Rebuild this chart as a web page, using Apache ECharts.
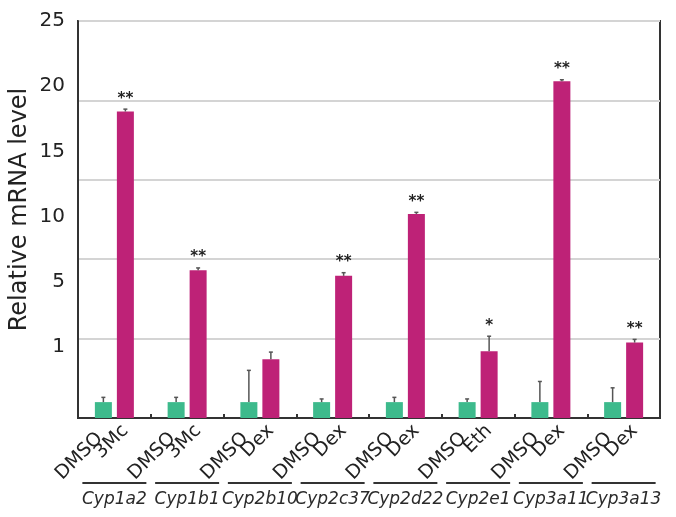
<!DOCTYPE html>
<html><head><meta charset="utf-8">
<script src="https://cdn.jsdelivr.net/npm/echarts@6/dist/echarts.min.js"></script>
<style>html,body{margin:0;padding:0;background:#fff}#c{width:676px;height:517px}</style>
</head><body><div id="c"></div>
<script>
const genes = ['Cyp1a2','Cyp1b1','Cyp2b10','Cyp2c37','Cyp2d22','Cyp2e1','Cyp3a11','Cyp3a13'];
const controlName = 'DMSO';
const treatments = ['3Mc','3Mc','Dex','Dex','Dex','Eth','Dex','Dex'];
const dmsoValues = [1,1,1,1,1,1,1,1];
const dmsoErrors = [0.3,0.3,2.0,0.2,0.3,0.2,1.3,0.9];
const treatedValues = [19.3,9.3,3.7,8.95,12.85,4.2,21.2,4.75];
const treatedErrors = [0.15,0.15,0.45,0.2,0.1,0.95,0.1,0.2];
const significance = ['**','**','','**','**','*','**','**'];
const yTickLabels = ['1','5','10','15','20','25'];

const FONT = 'DejaVu Sans';
const BAR_W = 17, BAR_GAP = 5;
const BAR_OFF = (BAR_W + BAR_GAP) / 2;

const errData = [];
dmsoValues.forEach((v, i) => errData.push([i, v, dmsoErrors[i], 0]));
treatedValues.forEach((v, i) => errData.push([i, v, treatedErrors[i], 1]));

function renderErr(params, api) {
  const i = api.value(0), v = api.value(1), e = api.value(2), side = api.value(3);
  const base = api.coord([i, v]);
  const top = api.coord([i, v + e]);
  const x = base[0] + (side === 0 ? -BAR_OFF : BAR_OFF);
  const children = [
    {type: 'line', shape: {x1: x, y1: base[1], x2: x, y2: top[1]}, style: {stroke: '#555', lineWidth: 1.5}},
    {type: 'line', shape: {x1: x - 2, y1: top[1], x2: x + 2, y2: top[1]}, style: {stroke: '#555', lineWidth: 1.5}}
  ];
  const star = side === 1 ? significance[i] : '';
  if (star) {
    children.push({type: 'text', x: x, y: top[1] - 3,
      style: {text: star, textAlign: 'center', textVerticalAlign: 'bottom',
        font: 'bold 15px "' + FONT + '"', fill: '#222'}});
  }
  return {type: 'group', children: children};
}

const chart = echarts.init(document.getElementById('c'));
chart.setOption({
  animation: false,
  backgroundColor: '#fff',
  grid: [
    {left: 73, right: 16, top: 21, bottom: 99, show: true, borderColor: '#333', borderWidth: 2},
    {left: 73, right: 16, top: 21, bottom: 170}
  ],
  xAxis: [
    {type: 'category', gridIndex: 0, data: genes,
      axisLine: {lineStyle: {color: '#333', width: 2}},
      axisTick: {show: true, inside: true, length: 4, lineStyle: {color: '#333', width: 2}},
      axisLabel: {
        interval: 0, margin: 64,
        formatter: v => '{line| }\n{name|' + v + '}',
        rich: {
          line: {width: 64, height: 2, lineHeight: 2, backgroundColor: '#333', fontSize: 1},
          name: {fontStyle: 'italic', fontSize: 17, fontFamily: FONT, color: '#2a2a2a', lineHeight: 32}
        }
      }},
    {type: 'value', gridIndex: 1, show: false, min: 0, max: 1}
  ],
  yAxis: [
    {type: 'value', gridIndex: 0, min: 0, max: 25, interval: 5,
      name: 'Relative mRNA level', nameLocation: 'middle', nameGap: 46,
      nameTextStyle: {fontSize: 24, fontFamily: FONT, color: '#222', padding: [0, 0, 0, 20]},
      axisLine: {show: true, lineStyle: {color: '#333', width: 2}},
      axisTick: {show: false},
      axisLabel: {show: false},
      splitLine: {show: true, lineStyle: {color: '#d4d4d4', width: 2}}},
    {type: 'value', gridIndex: 1, min: 0, max: 5, interval: 1,
      axisLine: {show: false}, axisTick: {show: false}, splitLine: {show: false},
      axisLabel: {margin: 8, fontSize: 20, fontFamily: FONT, color: '#222',
        formatter: v => yTickLabels[Math.round(v)] || ''}}
  ],
  series: [
    {type: 'bar', name: controlName, data: dmsoValues, barWidth: BAR_W, barGap: (BAR_GAP / BAR_W * 100) + '%',
      itemStyle: {color: '#3dba8c'},
      label: {show: true, formatter: controlName, position: ['50%', '100%'], offset: [-15, 10],
        rotate: 45, align: 'right', verticalAlign: 'middle', fontSize: 19, fontFamily: FONT, color: '#222'}},
    {type: 'bar', name: 'Treated', data: treatedValues, barWidth: BAR_W,
      itemStyle: {color: '#be2277'},
      label: {show: true, formatter: p => treatments[p.dataIndex], position: ['50%', '100%'], offset: [-7, 7],
        rotate: 45, align: 'right', verticalAlign: 'middle', fontSize: 19, fontFamily: FONT, color: '#222'}},
    {type: 'custom', name: 'err', data: errData, renderItem: renderErr, encode: {x: 0, y: 1}, z: 5}
  ]
});
</script></body></html>
